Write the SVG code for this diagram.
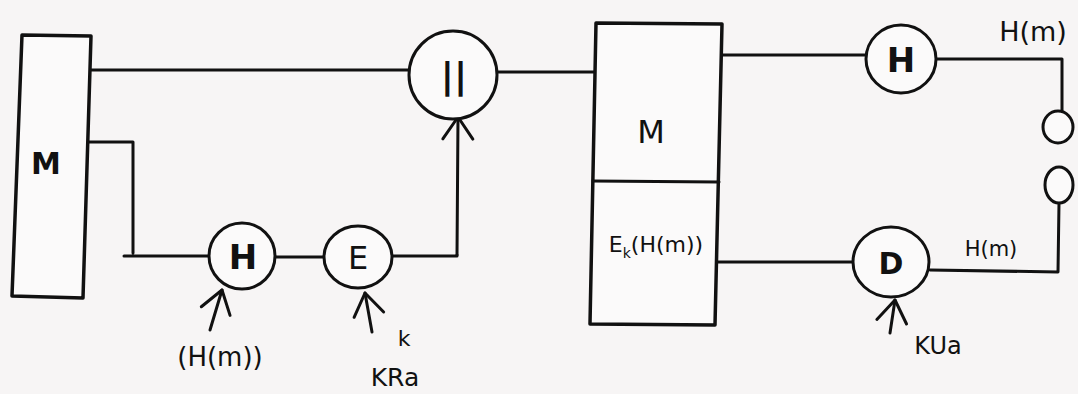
<svg xmlns="http://www.w3.org/2000/svg" width="1078" height="394" viewBox="0 0 1078 394">
  <defs>
    <style>
      .ink { fill: none; stroke: #111; stroke-width: 3; stroke-linecap: round; stroke-linejoin: round; }
      .box { fill: #fbfafa; stroke: #111; stroke-width: 3.5; stroke-linejoin: round; }
      .node { fill: #fbfafa; stroke: #111; stroke-width: 3; }
      .lbl { font-family: "DejaVu Sans", "Liberation Sans", sans-serif; fill: #111; text-anchor: middle; }
      .big { font-weight: bold; }
    </style>
    <marker id="arrow" markerUnits="userSpaceOnUse" markerWidth="50" markerHeight="50" viewBox="-25 -25 50 50" refX="0" refY="0" orient="auto">
      <path d="M-22,-15 L0,0 L-22,15" fill="none" stroke="#111" stroke-width="3" stroke-linecap="round" stroke-linejoin="round"/>
    </marker>
  </defs>

  <rect width="1078" height="394" fill="#f7f5f5"/>

  <!-- wiring between the blocks -->
  <g id="connectors" class="ink">
    <!-- sender: M straight across to the comparison node -->
    <path d="M91,70 L409,70"/>
    <!-- sender: M down to the hash node -->
    <path d="M89,142 L133,142 L133,253 M124,256 L209,256"/>
    <!-- hash to encrypt -->
    <path d="M275,257 L325,257"/>
    <!-- encrypt output up into the comparison node -->
    <path d="M391,256 L457,256 L457,255"/>
    <path d="M457,255 L458,117" marker-end="url(#arrow)"/>
    <!-- comparison node to message block -->
    <path d="M497,72 L596,72"/>
    <!-- message block to hash (receiver) -->
    <path d="M722,55 L866,55"/>
    <path d="M936,59 L1062,59 L1062,112"/>
    <!-- lower branch through the decrypt node -->
    <path d="M716,262 L853,262"/>
    <path d="M930,270 L1058,272 L1059,203"/>
    <!-- key / hash inputs -->
    <path d="M210,330 L222,290" marker-end="url(#arrow)"/>
    <path d="M372,332 L365,293" marker-end="url(#arrow)"/>
    <path d="M890,333 L895,300" marker-end="url(#arrow)"/>
  </g>

  <!-- sender message block -->
  <g id="sender-m">
    <polygon class="box" points="22,35 91,36 83,298 12,296"/>
    <text class="lbl big" x="46" y="174" font-size="30">M</text>
  </g>

  <!-- hash on the sender side -->
  <g id="hash-send">
    <ellipse class="node" cx="242" cy="256" rx="33" ry="33"/>
    <text class="lbl big" x="243" y="269" font-size="34">H</text>
  </g>

  <!-- encryption with the key -->
  <g id="encrypt">
    <ellipse class="node" cx="358" cy="257" rx="34" ry="31"/>
    <text class="lbl" x="358" y="269" font-size="32">E</text>
  </g>

  <!-- concatenation node -->
  <g id="concat">
    <ellipse class="node" cx="453" cy="75" rx="44" ry="44"/>
    <text class="lbl big" x="454" y="88" font-size="36">||</text>
  </g>

  <!-- transmitted message block -->
  <g id="message">
    <polygon class="box" points="596,23 722,24 715,325 590,324"/>
    <path class="ink" d="M593,181 L719,182" stroke-width="2.5"/>
    <text class="lbl" x="651" y="143" font-size="32">M</text>
    <text class="lbl" x="656" y="252" font-size="22">E<tspan font-size="14" dy="6">k</tspan><tspan dy="-6">(H(m))</tspan></text>
  </g>

  <!-- hash on the receiver side -->
  <g id="hash-recv">
    <ellipse class="node" cx="901" cy="59" rx="35" ry="34"/>
    <text class="lbl big" x="901" y="72" font-size="34">H</text>
  </g>

  <!-- decryption with the key -->
  <g id="decrypt">
    <ellipse class="node" cx="891" cy="262" rx="38" ry="35"/>
    <text class="lbl big" x="891" y="274" font-size="30">D</text>
  </g>

  <!-- comparison terminals -->
  <g id="compare">
    <ellipse class="node" cx="1058" cy="127" rx="15" ry="16"/>
    <ellipse class="node" cx="1059" cy="185" rx="14" ry="18"/>
  </g>

  <!-- free labels -->
  <g id="labels">
    <text class="lbl" x="220" y="366" font-size="26">(H(m))</text>
    <text class="lbl" x="404" y="346" font-size="22">k</text>
    <text class="lbl" x="395" y="386" font-size="25">KRa</text>
    <text class="lbl" x="938" y="354" font-size="24">KUa</text>
    <text class="lbl" x="1033" y="41" font-size="27">H(m)</text>
    <text class="lbl" x="991" y="256" font-size="21">H(m)</text>
  </g>
</svg>
